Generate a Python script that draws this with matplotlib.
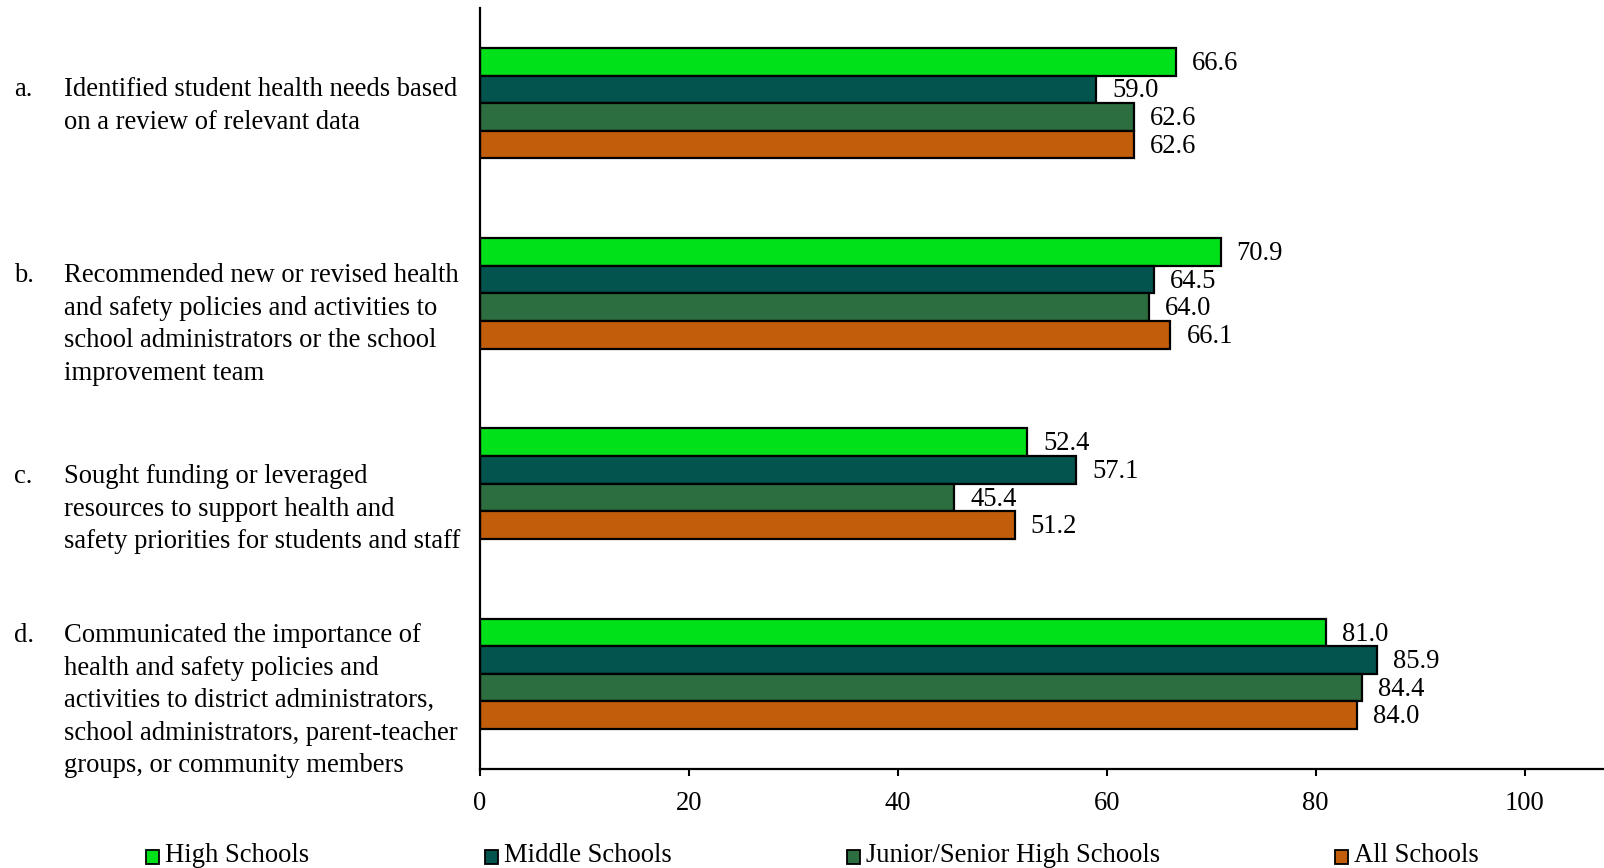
import matplotlib
matplotlib.use("Agg")
import matplotlib.pyplot as plt
from matplotlib.patches import Rectangle
import numpy as np

plt.rcParams['font.family'] = ['Liberation Serif', 'DejaVu Serif']

letters = ["a.", "b.", "c.", "d."]
items = [
    "Identified student health needs based\non a review of relevant data",
    "Recommended new or revised health\nand safety policies and activities to\nschool administrators or the school\nimprovement team",
    "Sought funding or leveraged\nresources to support health and\nsafety priorities for students and staff",
    "Communicated the importance of\nhealth and safety policies and\nactivities to district administrators,\nschool administrators, parent-teacher\ngroups, or community members",
]
series_names = ["High Schools", "Middle Schools", "Junior/Senior High Schools", "All Schools"]
high = [66.6, 70.9, 52.4, 81.0]
middle = [59.0, 64.5, 57.1, 85.9]
junior = [62.6, 64.0, 45.4, 84.4]
allsch = [62.6, 66.1, 51.2, 84.0]
xticks = [0, 20, 40, 60, 80, 100]

colors = ["#00E11A", "#03534F", "#2C6E3F", "#C25E0B"]
series = [high, middle, junior, allsch]

FS = 19.2
W, H = 1604, 868
fig = plt.figure(figsize=(W/100, H/100), dpi=100)
ax = fig.add_axes([480/W, 1-769/H, (W-480)/W, (769-8)/H])

n = len(items)
y = np.arange(n)
bh = 0.145
offsets = [-1.5, -0.5, 0.5, 1.5]
for s, vals, c, off in zip(series_names, series, colors, offsets):
    bars = ax.barh(y + off*bh, vals, height=bh, color=c, edgecolor="black", linewidth=1.6, label=s)
    for b, v in zip(bars, vals):
        ax.annotate(f"{v:.1f}", (b.get_width(), b.get_y() + b.get_height()/2),
                    xytext=(11.5, -1.2), textcoords="offset points", va="center", ha="left",
                    fontsize=FS)

ax.set_ylim(n - 0.5, -0.5)
ax.set_xlim(0, 107.6)
ax.set_xticks(xticks)
ax.set_xticklabels([str(t) for t in xticks], fontsize=FS)
ax.set_yticks([])
ax.tick_params(axis="x", direction="out", length=5, width=1.5, pad=11)
for sp in ["top", "right"]:
    ax.spines[sp].set_visible(False)
ax.spines["left"].set_linewidth(1.6)
ax.spines["bottom"].set_linewidth(1.6)

# category labels (first-line top positions in pixels)
label_tops = [77, 263, 464, 623]
for let, txt, top in zip(letters, items, label_tops):
    fy = 1 - top/H
    fig.text(14/W, fy, let, fontsize=FS, va="top", ha="left")
    fig.text(64/W, fy, txt, fontsize=FS, va="top", ha="left", linespacing=1.40)

# legend
leg_x = [146, 485, 847, 1335]
for name, c, lx in zip(series_names, colors, leg_x):
    fig.patches.append(Rectangle((lx/W, 1-864/H), 13/W, 14/H,
                                 transform=fig.transFigure, facecolor=c,
                                 edgecolor="black", linewidth=1.3))
    fig.text((lx+19)/W, 1-856/H, name, fontsize=FS, va="center", ha="left")

fig.savefig("out.png", dpi=100)
